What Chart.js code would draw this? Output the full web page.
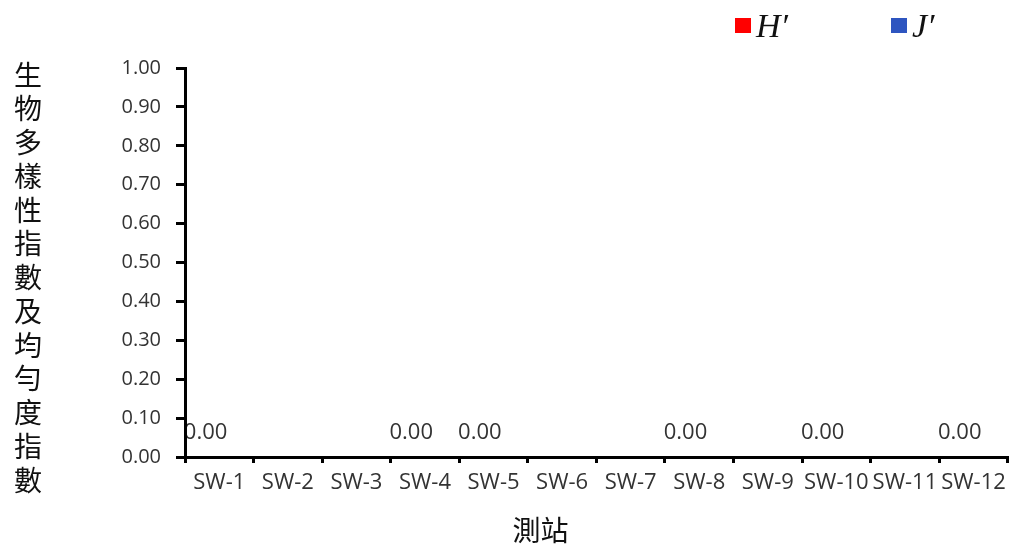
<!DOCTYPE html>
<html>
<head>
<meta charset="utf-8">
<script src="https://cdn.jsdelivr.net/npm/chart.js@4"></script>
<style>
  html, body { margin: 0; padding: 0; background: #fff; }
  #wrap { width: 1013px; height: 547px; }
</style>
</head>
<body>
<div id="wrap"><canvas id="myChart"></canvas></div>
<script>
// stations and the two index series (null = no value shown)
const stations = ['SW-1', 'SW-2', 'SW-3', 'SW-4', 'SW-5', 'SW-6', 'SW-7', 'SW-8', 'SW-9', 'SW-10', 'SW-11', 'SW-12'];
const hValues = [0, null, null, 0, 0, null, null, 0, null, 0, null, 0];
const jValues = [null, null, null, null, null, null, null, null, null, null, null, null];
const seriesNames = ['H\u2032', 'J\u2032'];
const seriesColors = ['#ff0000', '#2e55c0'];
const yTitle = '生物多樣性指數及均勻度指數';
const xTitle = '測站';

const txtColor = '#333333';
const baseFont = "'Open Sans', sans-serif";

// value labels (drawn before the axes so the axis line sits on top, as in the original)
const valueLabels = {
    id: 'valueLabels',
    beforeDraw(chart) {
        const ctx = chart.ctx;
        const meta = chart.getDatasetMeta(0);
        ctx.save();
        ctx.font = '22px ' + baseFont;
        ctx.fillStyle = txtColor;
        ctx.textAlign = 'center';
        ctx.textBaseline = 'alphabetic';
        meta.data.forEach((bar, i) => {
            const v = chart.data.datasets[0].data[i];
            if (v === null) return;
            ctx.fillText(v.toFixed(2), bar.x, bar.y - 18);
        });
        ctx.restore();
    }
};

// titles and legend
const extras = {
    id: 'extras',
    afterDraw(chart) {
        const ctx = chart.ctx;
        const area = chart.chartArea;
        ctx.save();
        // vertical stacked y title
        ctx.font = "28px 'Noto Sans CJK TC', sans-serif";
        ctx.fillStyle = '#111';
        ctx.textAlign = 'center';
        ctx.textBaseline = 'middle';
        const chars = Array.from(yTitle);
        chars.forEach((c, i) => {
            ctx.fillText(c, 28, 75 + i * 33.75);
        });
        // x title
        ctx.fillText(xTitle, area.left + (area.right - area.left) * 0.432, 530);

        // legend
        const ds = chart.data.datasets;
        const starts = [735, 891];
        ds.forEach((d, i) => {
            const x = starts[i];
            ctx.fillStyle = d.backgroundColor;
            ctx.fillRect(x, 18, 16, 15);
            ctx.fillStyle = '#111';
            ctx.textAlign = 'left';
            ctx.textBaseline = 'alphabetic';
            ctx.font = "italic 34px 'Liberation Serif', 'DejaVu Serif', serif";
            ctx.fillText(d.label, x + 21, 37);
        });
        ctx.restore();
    }
};

const ctx = document.getElementById('myChart').getContext('2d');
const myChart = new Chart(ctx, {
    type: 'bar',
    data: {
        labels: stations,
        datasets: [{
            label: seriesNames[0],
            data: hValues,
            backgroundColor: seriesColors[0],
            borderWidth: 0
        }, {
            label: seriesNames[1],
            data: jValues,
            backgroundColor: seriesColors[1],
            borderWidth: 0
        }]
    },
    options: {
        responsive: true,
        maintainAspectRatio: false,
        animation: false,
        layout: { padding: { top: 68, right: 5, left: 0, bottom: 0 } },
        plugins: {
            legend: { display: false },
            tooltip: { enabled: false }
        },
        scales: {
            x: {
                grid: {
                    offset: true,
                    drawOnChartArea: false,
                    drawTicks: true,
                    tickLength: 6,
                    color: '#000',
                    lineWidth: 3
                },
                border: { display: true, color: '#000', width: 3 },
                ticks: {
                    color: txtColor,
                    font: { family: baseFont, size: 22 },
                    padding: 7,
                    maxRotation: 0,
                    autoSkip: false
                },
                afterFit(scale) { scale.height = 90; }
            },
            y: {
                min: 0,
                max: 1,
                grid: {
                    drawOnChartArea: false,
                    drawTicks: true,
                    tickLength: 9,
                    color: '#000',
                    lineWidth: 3
                },
                border: { display: true, color: '#000', width: 3 },
                ticks: {
                    stepSize: 0.1,
                    color: txtColor,
                    font: { family: baseFont, size: 20 },
                    padding: 15,
                    callback: (v) => Number(v).toFixed(2)
                },
                afterFit(scale) { scale.width = 185; }
            }
        }
    },
    plugins: [valueLabels, extras]
});
</script>
</body>
</html>
